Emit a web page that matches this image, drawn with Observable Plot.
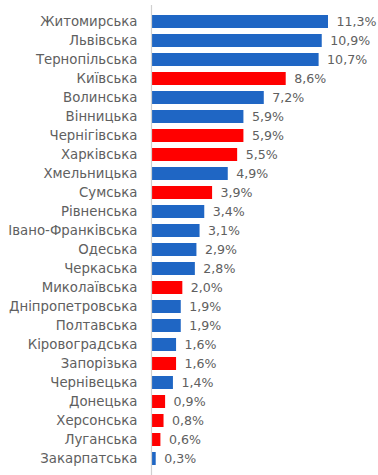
<!DOCTYPE html>
<html>
<head>
<meta charset="utf-8">
<script src="https://cdn.jsdelivr.net/npm/d3@7"></script>
<script src="https://cdn.jsdelivr.net/npm/@observablehq/plot@0.6"></script>
<style>
  html, body { margin: 0; padding: 0; background: #fff; }
  #chart svg { display: block; }
</style>
</head>
<body>
<div id="chart"></div>
<script>
const regions = ["Житомирська","Львівська","Тернопільська","Київська","Волинська","Вінницька","Чернігівська","Харківська","Хмельницька","Сумська","Рівненська","Івано-Франківська","Одеська","Черкаська","Миколаївська","Дніпропетровська","Полтавська","Кіровоградська","Запорізька","Чернівецька","Донецька","Херсонська","Луганська","Закарпатська"];
const values = [11.3,10.9,10.7,8.6,7.2,5.9,5.9,5.5,4.9,3.9,3.4,3.1,2.9,2.8,2.0,1.9,1.9,1.6,1.6,1.4,0.9,0.8,0.6,0.3];
const groups = ["b","b","b","r","b","b","r","r","b","r","b","b","b","b","r","b","b","b","r","b","r","r","r","b"];
const groupColors = {b: "#1f66c4", r: "#ff0000"};

const data = regions.map((name, i) => ({name, value: values[i], group: groups[i]}));
const fmt = v => v.toFixed(1).replace(".", ",") + "%";

const chart = Plot.plot({
  width: 378,
  height: 475,
  marginLeft: 151,
  marginRight: 50,
  marginTop: 5,
  marginBottom: 0,
  style: {fontFamily: "'DejaVu Sans', sans-serif", fontSize: "13.3px", color: "#595959", background: "#fff"},
  x: {domain: [0, 11.3], axis: null},
  y: {domain: regions, padding: 0.32, axis: null},
  marks: [
    Plot.barX(data, {x: "value", y: "name", fill: d => groupColors[d.group]}),
    Plot.ruleX([0], {stroke: "#d0d0d0", strokeWidth: 1.2}),
    Plot.text(data, {x: 0, y: "name", text: "name", textAnchor: "end", dx: -14, fill: "#606060", fontSize: 13.3}),
    Plot.text(data, {x: "value", y: "name", text: d => fmt(d.value), textAnchor: "start", dx: 8, fill: "#606060", fontSize: 12.6})
  ]
});
document.getElementById("chart").append(chart);
</script>
</body>
</html>
